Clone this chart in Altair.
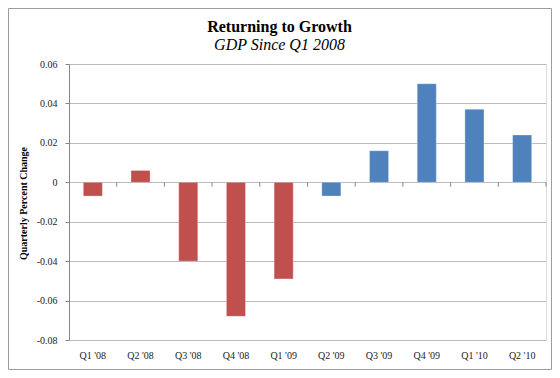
import altair as alt
import pandas as pd

quarters = ["Q1 '08", "Q2 '08", "Q3 '08", "Q4 '08", "Q1 '09",
            "Q2 '09", "Q3 '09", "Q4 '09", "Q1 '10", "Q2 '10"]
changes = [-0.007, 0.006, -0.040, -0.068, -0.049,
           -0.007, 0.016, 0.050, 0.037, 0.024]
phase = ["Decline"] * 5 + ["Recovery"] * 5
y_ticks = [-0.08, -0.06, -0.04, -0.02, 0, 0.02, 0.04, 0.06]

df = pd.DataFrame({"quarter": quarters, "change": changes, "phase": phase})

W, H = 477, 276
PL, PT, PR, PB = 61, 56, 6, 30
FONT = "Liberation Serif"

xscale = alt.Scale(domain=quarters, paddingInner=0.6, paddingOuter=0.3)
yscale = alt.Scale(domain=[-0.08, 0.06], nice=False, zero=False)

xaxis = alt.Axis(title=None, labelAngle=0, ticks=False, domain=False,
                 grid=False, labelPadding=10, labelFont=FONT,
                 labelFontSize=10, labelColor="#222")
yaxis = alt.Axis(values=y_ticks, tickCount=8, labelOverlap=False,
                 labelExpr="datum.value == 0 ? '0' : replace(format(datum.value, '.2f'), '\u2212', '-')",
                 title="Quarterly Percent Change", titleFont=FONT,
                 titleFontSize=10, titleFontWeight="bold", titleColor="black",
                 titleX=-46, titleY=139, titleAngle=270, titleAlign="center",
                 titleBaseline="middle",
                 labelFont=FONT, labelFontSize=10, labelColor="#222",
                 labelPadding=8, tickSize=4, tickColor="#868686",
                 domainColor="#868686", gridColor="#BDBDBD")

base = alt.Chart(df)

bars = base.mark_bar(stroke="white", strokeWidth=0.6, strokeOpacity=0.5).encode(
    x=alt.X("quarter:N", sort=quarters, scale=xscale, axis=xaxis),
    y=alt.Y("change:Q", scale=yscale, axis=yaxis),
    color=alt.Color("phase:N",
                    scale=alt.Scale(domain=["Decline", "Recovery"],
                                    range=["#C0504D", "#4F81BD"]),
                    legend=None),
)

ticks = base.transform_calculate(lo="0", hi="-0.0022").mark_rule(
    color="#868686", xOffset=W / 20
).encode(
    x=alt.X("quarter:N", sort=quarters, scale=xscale, axis=xaxis),
    y=alt.Y("lo:Q", scale=yscale, axis=yaxis),
    y2="hi:Q",
)

border = alt.Chart(pd.DataFrame({"b": [0]})).mark_rect(
    filled=False, stroke="#9C9C9C", strokeWidth=1
).encode(
    x=alt.value(-PL + 0.5), x2=alt.value(W + PR - 0.5),
    y=alt.value(-PT + 0.5), y2=alt.value(H + PB - 0.5),
)

chart = alt.layer(border, bars, ticks).properties(
    width=W, height=H,
    padding={"left": PL, "top": PT, "right": PR, "bottom": PB},
    autosize="none",
    title=alt.TitleParams(
        text="Returning to Growth", subtitle="GDP Since Q1 2008",
        font=FONT, fontSize=16, fontWeight="bold", color="black",
        subtitleFont=FONT, subtitleFontSize=16, subtitleFontStyle="italic",
        subtitleColor="black", anchor="middle", frame="group", dx=-28,
        offset=-45, subtitlePadding=2,
    ),
).configure_view(strokeWidth=0).configure(background="white")

chart.save("out.html", embed_options={"renderer": "svg", "actions": False})
